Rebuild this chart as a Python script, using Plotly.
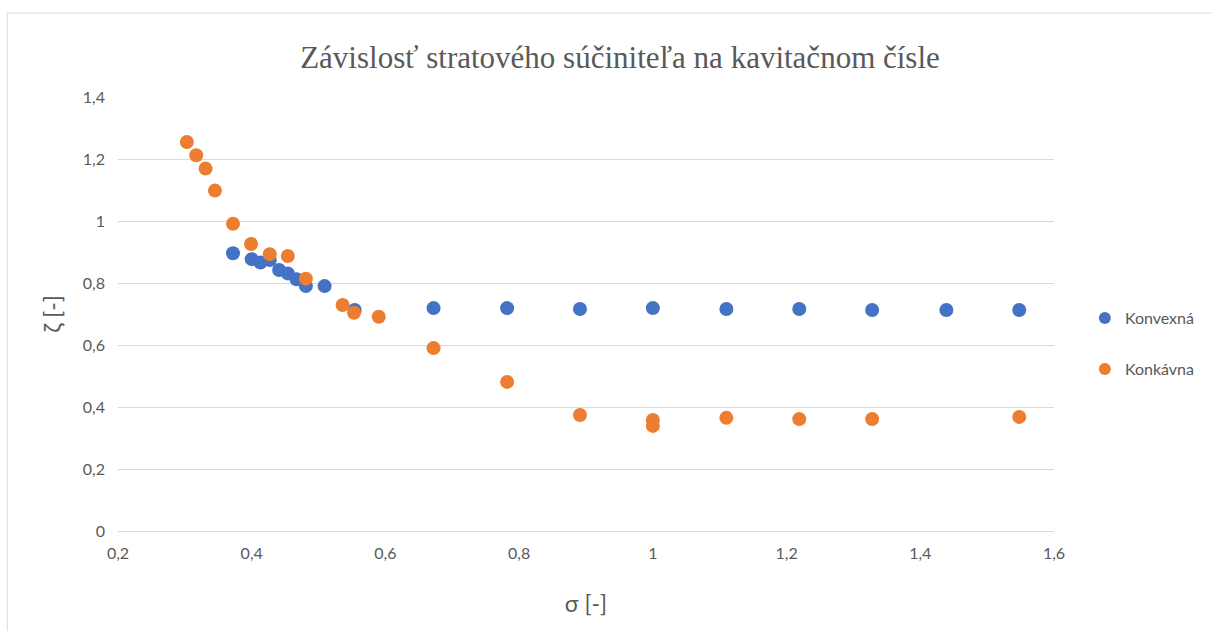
import plotly.graph_objects as go

# Konvexná profile: cavitation number sigma vs. loss coefficient zeta
sigma_konvexna = [0.372, 0.400, 0.413, 0.427, 0.441, 0.454, 0.467, 0.481, 0.509, 0.554,
                  0.672, 0.782, 0.891, 1.000, 1.110, 1.219, 1.328, 1.439, 1.548]
zeta_konvexna = [0.896, 0.877, 0.866, 0.874, 0.842, 0.831, 0.812, 0.790, 0.790, 0.713,
                 0.719, 0.719, 0.716, 0.719, 0.716, 0.716, 0.713, 0.713, 0.713]

# Konkávna profile
sigma_konkavna = [0.303, 0.317, 0.331, 0.345, 0.372, 0.399, 0.427, 0.454, 0.481, 0.536,
                  0.553, 0.590, 0.672, 0.782, 0.891, 1.000, 1.000, 1.110, 1.219, 1.328, 1.548]
zeta_konkavna = [1.255, 1.212, 1.169, 1.098, 0.991, 0.926, 0.893, 0.887, 0.814, 0.729,
                 0.704, 0.691, 0.590, 0.481, 0.374, 0.358, 0.339, 0.365, 0.361, 0.361, 0.368]

x_ticks = [0.2, 0.4, 0.6, 0.8, 1.0, 1.2, 1.4, 1.6]
y_ticks = [0, 0.2, 0.4, 0.6, 0.8, 1.0, 1.2, 1.4]

BLUE = "#4472C4"
ORANGE = "#ED7D31"
TEXT = "#595959"
GRID = "#D9D9D9"
FONT = "Lato, Open Sans, sans-serif"

fig = go.Figure()
fig.add_trace(go.Scatter(
    x=sigma_konvexna, y=zeta_konvexna, mode="markers", name="Konvexná",
    marker=dict(color=BLUE, size=14, line=dict(width=0)), legend="legend",
    showlegend=True,
))
fig.add_trace(go.Scatter(
    x=sigma_konkavna, y=zeta_konkavna, mode="markers", name="Konkávna",
    marker=dict(color=ORANGE, size=14, line=dict(width=0)), legend="legend2",
    showlegend=True,
))

legend_style = dict(
    x=1.033, xanchor="left", yanchor="middle",
    font=dict(family=FONT, size=16, color=TEXT),
    bgcolor="rgba(0,0,0,0)", itemsizing="constant", itemwidth=30,
)

fig.update_layout(
    width=1212, height=631,
    margin=dict(l=118, r=156, t=97, b=100),
    paper_bgcolor="white", plot_bgcolor="white",
    separators=", ",
    showlegend=True,
    title=dict(
        text="Závislosť stratového súčiniteľa na kavitačnom čísle",
        x=620 / 1212, xanchor="center",
        y=1 - 57 / 631, yanchor="middle",
        font=dict(family="Liberation Serif, Times New Roman, serif", size=31, color=TEXT),
    ),
    xaxis=dict(
        range=[0.2, 1.6], tickvals=x_ticks, tickformat=".1~f",
        showgrid=False, zeroline=False,
        showline=True, linecolor=GRID, linewidth=1.3,
        ticks="", ticklen=0, ticklabelstandoff=8,
        tickfont=dict(family=FONT, size=16, color=TEXT),
        title=dict(text="σ [-]", font=dict(family=FONT, size=23, color=TEXT), standoff=34),
    ),
    yaxis=dict(
        range=[0, 1.4], tickvals=y_ticks, tickformat=".1~f",
        showgrid=True, gridcolor=GRID, gridwidth=1.3, zeroline=False,
        showline=False, ticks="", ticklabelstandoff=12,
        tickfont=dict(family=FONT, size=16, color=TEXT),
        title=dict(text="ζ [-]", font=dict(family=FONT, size=23, color=TEXT), standoff=14),
    ),
    legend=dict(y=1 - (318 - 97) / 434, **legend_style),
    legend2=dict(y=1 - (369 - 97) / 434, **legend_style),
    shapes=[dict(
        type="rect", xref="paper", yref="paper",
        x0=(7 - 118) / 938, x1=(1230 - 118) / 938,
        y0=-(660 - 531) / 434, y1=1 + (97 - 13) / 434,
        line=dict(color=GRID, width=1), fillcolor="rgba(0,0,0,0)", layer="below",
    )],
)

fig.write_html("out.html")
